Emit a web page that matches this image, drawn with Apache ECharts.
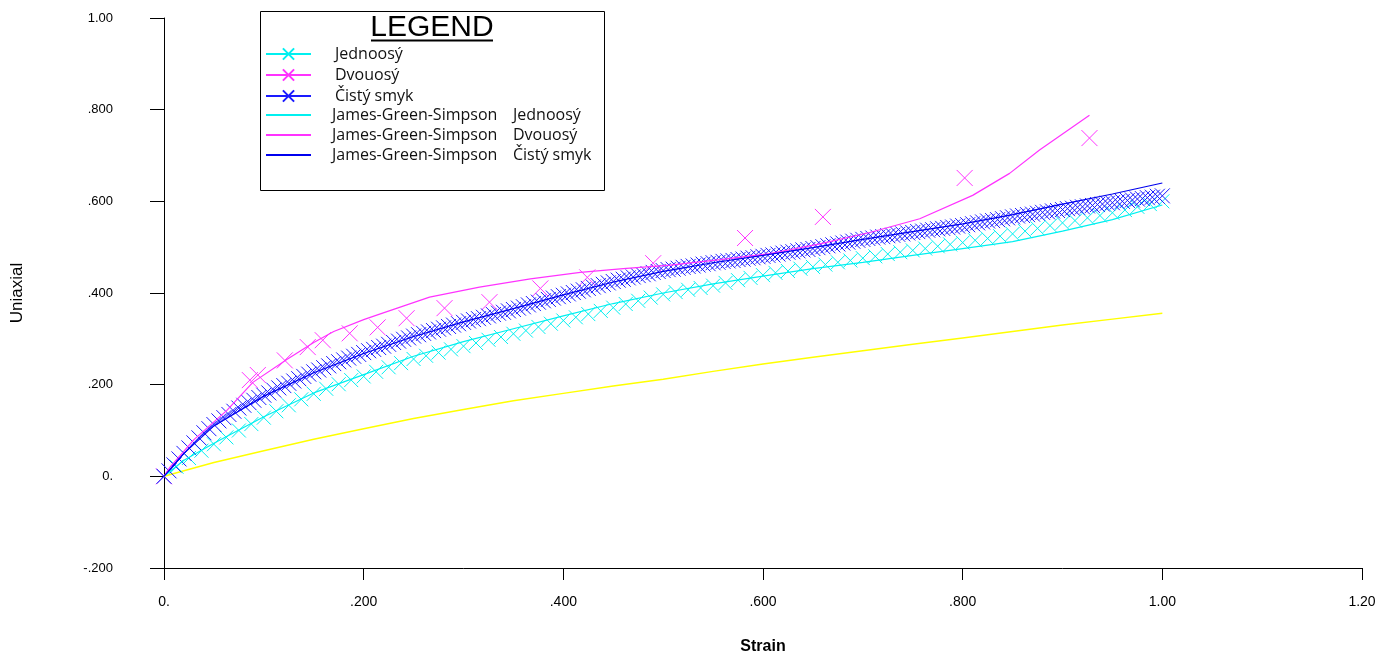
<!DOCTYPE html>
<html>
<head>
<meta charset="utf-8">
<script src="https://cdn.jsdelivr.net/npm/echarts@6/dist/echarts.min.js"></script>
<style>
html,body{margin:0;padding:0;background:#fff;}
#chart{width:1393px;height:655px;}
</style>
</head>
<body>
<div id="chart"></div>
<script>
// ---------- DATA ----------
const xTicks = [0, 0.2, 0.4, 0.6, 0.8, 1.0, 1.2];
const yTicks = [-0.2, 0, 0.2, 0.4, 0.6, 0.8, 1.0];

const seriesNames = ['Jednoosý', 'Dvouosý', 'Čistý smyk',
  'James-Green-Simpson Jednoosý', 'James-Green-Simpson Dvouosý', 'James-Green-Simpson Čistý smyk'];

// Jednoosý (uniaxial test points)
const uniPts = [
[0,0],[0.0125,0.021],[0.025,0.040],[0.0375,0.056],[0.05,0.070],[0.0625,0.085],[0.075,0.100],[0.0875,0.114],
[0.1,0.128],[0.1125,0.142],[0.125,0.155],[0.1375,0.168],[0.15,0.180],[0.1625,0.191],[0.175,0.201],[0.1875,0.210],
[0.2,0.218],[0.2125,0.228],[0.225,0.238],[0.2375,0.247],[0.25,0.256],[0.2625,0.263],[0.275,0.270],[0.2875,0.277],
[0.3,0.284],[0.3125,0.291],[0.325,0.298],[0.3375,0.304],[0.35,0.311],[0.3625,0.318],[0.375,0.326],[0.3875,0.333],
[0.4,0.340],[0.4125,0.347],[0.425,0.354],[0.4375,0.361],[0.45,0.368],[0.4625,0.376],[0.475,0.383],[0.4875,0.390],
[0.5,0.397],[0.5125,0.402],[0.525,0.407],[0.5375,0.411],[0.55,0.416],[0.5625,0.422],[0.575,0.428],[0.5875,0.433],
[0.6,0.439],[0.6125,0.444],[0.625,0.448],[0.6375,0.453],[0.65,0.457],[0.6625,0.462],[0.675,0.467],[0.6875,0.471],
[0.7,0.476],[0.7125,0.480],[0.725,0.485],[0.7375,0.489],[0.75,0.493],[0.7625,0.497],[0.775,0.502],[0.7875,0.506],
[0.8,0.510],[0.8125,0.515],[0.825,0.519],[0.8375,0.524],[0.85,0.529],[0.8625,0.535],[0.875,0.541],[0.8875,0.547],
[0.9,0.553],[0.9125,0.558],[0.925,0.564],[0.9375,0.569],[0.95,0.575],[0.9625,0.581],[0.975,0.588],[0.9875,0.594],
[1.0,0.600]
];

// Dvouosý (biaxial test points)
const biPts = [
[0,0],[0.086,0.210],[0.094,0.221],[0.121,0.253],[0.144,0.282],[0.159,0.297],[0.186,0.312],[0.214,0.325],
[0.243,0.345],[0.281,0.367],[0.326,0.380],[0.377,0.410],[0.424,0.434],[0.490,0.465],[0.582,0.520],
[0.660,0.566],[0.802,0.651],[0.927,0.738]
];

// Čistý smyk (pure shear test points)
const shearPts = [
[0,0],[0.005,0.012],[0.01,0.025],[0.015,0.038],[0.02,0.050],[0.025,0.062],[0.03,0.073],[0.035,0.084],[0.04,0.095],[0.045,0.104],
[0.05,0.113],[0.055,0.121],[0.06,0.128],[0.065,0.135],[0.07,0.142],[0.075,0.149],[0.08,0.155],[0.085,0.161],[0.09,0.166],[0.095,0.172],
[0.1,0.177],[0.105,0.182],[0.11,0.188],[0.115,0.193],[0.12,0.198],[0.125,0.203],[0.13,0.208],[0.135,0.213],[0.14,0.218],[0.145,0.223],
[0.15,0.228],[0.155,0.232],[0.16,0.237],[0.165,0.241],[0.17,0.246],[0.175,0.250],[0.18,0.254],[0.185,0.258],[0.19,0.262],[0.195,0.266],
[0.2,0.270],[0.205,0.274],[0.21,0.277],[0.215,0.281],[0.22,0.284],[0.225,0.288],[0.23,0.292],[0.235,0.295],[0.24,0.299],[0.245,0.302],
[0.25,0.306],[0.255,0.309],[0.26,0.312],[0.265,0.315],[0.27,0.318],[0.275,0.321],[0.28,0.324],[0.285,0.327],[0.29,0.330],[0.295,0.333],
[0.3,0.336],[0.305,0.339],[0.31,0.342],[0.315,0.344],[0.32,0.347],[0.325,0.350],[0.33,0.353],[0.335,0.356],[0.34,0.358],[0.345,0.361],
[0.35,0.364],[0.355,0.367],[0.36,0.370],[0.365,0.374],[0.37,0.377],[0.375,0.380],[0.38,0.383],[0.385,0.386],[0.39,0.389],[0.395,0.392],
[0.4,0.395],[0.405,0.398],[0.41,0.401],[0.415,0.404],[0.42,0.407],[0.425,0.410],[0.43,0.413],[0.435,0.416],[0.44,0.419],[0.445,0.422],
[0.45,0.425],[0.455,0.428],[0.46,0.430],[0.465,0.433],[0.47,0.435],[0.475,0.438],[0.48,0.440],[0.485,0.442],[0.49,0.445],[0.495,0.447],
[0.5,0.449],[0.505,0.451],[0.51,0.452],[0.515,0.454],[0.52,0.456],[0.525,0.458],[0.53,0.459],[0.535,0.461],[0.54,0.463],[0.545,0.464],
[0.55,0.466],[0.555,0.467],[0.56,0.469],[0.565,0.470],[0.57,0.471],[0.575,0.473],[0.58,0.474],[0.585,0.476],[0.59,0.477],[0.595,0.479],
[0.6,0.480],[0.605,0.482],[0.61,0.483],[0.615,0.485],[0.62,0.487],[0.625,0.489],[0.63,0.490],[0.635,0.492],[0.64,0.494],[0.645,0.495],
[0.65,0.497],[0.655,0.499],[0.66,0.501],[0.665,0.503],[0.67,0.505],[0.675,0.507],[0.68,0.509],[0.685,0.511],[0.69,0.513],[0.695,0.515],
[0.7,0.517],[0.705,0.519],[0.71,0.520],[0.715,0.522],[0.72,0.523],[0.725,0.525],[0.73,0.526],[0.735,0.528],[0.74,0.529],[0.745,0.531],
[0.75,0.532],[0.755,0.534],[0.76,0.535],[0.765,0.537],[0.77,0.538],[0.775,0.540],[0.78,0.541],[0.785,0.543],[0.79,0.544],[0.795,0.546],
[0.8,0.547],[0.805,0.549],[0.81,0.551],[0.815,0.553],[0.82,0.555],[0.825,0.557],[0.83,0.558],[0.835,0.560],[0.84,0.562],[0.845,0.564],
[0.85,0.566],[0.855,0.568],[0.86,0.569],[0.865,0.571],[0.87,0.572],[0.875,0.574],[0.88,0.576],[0.885,0.577],[0.89,0.579],[0.895,0.580],
[0.9,0.582],[0.905,0.584],[0.91,0.585],[0.915,0.587],[0.92,0.588],[0.925,0.590],[0.93,0.591],[0.935,0.593],[0.94,0.594],[0.945,0.596],
[0.95,0.597],[0.955,0.599],[0.96,0.600],[0.965,0.602],[0.97,0.603],[0.975,0.605],[0.98,0.606],[0.985,0.608],[0.99,0.609],[0.995,0.611],
[1.0,0.612]
];

// James-Green-Simpson model curves
const jgsUni = [
[0,0],[0.02,0.035],[0.05,0.072],[0.1,0.130],[0.15,0.182],[0.2,0.222],[0.25,0.262],[0.3,0.294],[0.35,0.322],
[0.4,0.350],[0.45,0.377],[0.5,0.400],[0.55,0.420],[0.6,0.437],[0.65,0.453],[0.7,0.467],[0.75,0.482],
[0.8,0.497],[0.85,0.512],[0.9,0.535],[0.95,0.560],[1.0,0.592]
];
const jgsBi = [
[0,0],[0.006,0.020],[0.03,0.080],[0.063,0.144],[0.089,0.205],[0.123,0.255],[0.15,0.292],[0.17,0.316],
[0.2,0.342],[0.216,0.354],[0.266,0.391],[0.316,0.413],[0.367,0.431],[0.417,0.445],[0.46,0.453],[0.507,0.461],
[0.557,0.473],[0.607,0.486],[0.657,0.507],[0.707,0.532],[0.757,0.562],[0.81,0.613],[0.847,0.661],
[0.877,0.712],[0.927,0.788]
];
const jgsShear = [
[0,0],[0.02,0.050],[0.05,0.110],[0.1,0.175],[0.15,0.226],[0.2,0.268],[0.25,0.305],[0.3,0.337],[0.35,0.366],
[0.4,0.396],[0.45,0.424],[0.5,0.447],[0.55,0.466],[0.6,0.482],[0.65,0.499],[0.7,0.517],[0.75,0.534],
[0.8,0.551],[0.85,0.571],[0.9,0.594],[0.95,0.616],[1.0,0.640]
];
// extra yellow curve (not in legend)
const yellowCurve = [
[0,0],[0.05,0.030],[0.1,0.056],[0.15,0.081],[0.2,0.104],[0.25,0.126],[0.3,0.146],[0.35,0.165],[0.4,0.181],
[0.45,0.197],[0.5,0.212],[0.55,0.229],[0.6,0.245],[0.65,0.260],[0.7,0.274],[0.75,0.288],[0.8,0.302],
[0.85,0.316],[0.9,0.330],[0.95,0.343],[1.0,0.356]
];

// ---------- CHART ----------
const CYAN = '#00f0f0', MAG = '#ff33ff', BLUE = '#1a1aff', BLUE_LINE = '#0000ee', YEL = '#ffff00';
const XSYM = 'path://M0,0L10,10M10,0L0,10';
const UI_FONT = 'Open Sans';
const AX_FONT = 'Liberation Sans';

function fmt(v) {
  const r = Math.round(v * 1000) / 1000;
  if (r === 0) return '0.';
  if (Math.abs(r) >= 1) return r.toFixed(2);
  return r.toFixed(3).replace('0.', '.');
}

function markerSeries(name, data, color, size) {
  return {
    name, type: 'line', data, symbol: XSYM, symbolSize: size, showSymbol: true,
    showAllSymbol: true,
    lineStyle: { width: 1, color, opacity: 0 },
    itemStyle: { color, borderColor: color, borderWidth: 1 },
    emphasis: { disabled: true }, z: 2
  };
}
function lineSeries(name, data, color) {
  return {
    name, type: 'line', data, symbol: 'none', showSymbol: false,
    lineStyle: { width: 1.2, color },
    itemStyle: { color },
    emphasis: { disabled: true }, z: 3
  };
}

const legendRowsY = [53, 74, 95, 114, 134, 154];
const legends = seriesNames.map((n, i) => ({
  data: [n], left: 265, top: legendRowsY[i] - 7, padding: 0,
  itemWidth: 45, itemHeight: 14, selectedMode: false,
  lineStyle: { opacity: 1, width: 2 },
  itemStyle: i >= 3 ? { opacity: 0 } : {},
  formatter: function (name) {
    if (name.indexOf('James-Green-Simpson ') === 0) {
      return '{g|}{a|James-Green-Simpson}{b|' + name.slice(20) + '}';
    }
    return '{g|}{b|' + name + '}';
  },
  textStyle: {
    color: '#111', fontFamily: UI_FONT, fontSize: 16,
    rich: {
      g: { width: i >= 3 ? 16 : 19 },
      a: { width: 181, fontFamily: UI_FONT, fontSize: 16, color: '#111' },
      b: { fontFamily: UI_FONT, fontSize: 16, color: '#111' }
    }
  }
}));

const chart = echarts.init(document.getElementById('chart'), null, { renderer: 'canvas' });
chart.setOption({
  animation: false,
  backgroundColor: '#fff',
  grid: { left: 164, right: 31, top: 18, bottom: 87, containLabel: false, outerBoundsMode: 'none' },
  xAxis: {
    type: 'value', min: 0, max: 1.2, interval: 0.2,
    name: 'Strain', nameLocation: 'middle', nameGap: 71,
    nameTextStyle: { fontFamily: AX_FONT, fontSize: 16, fontWeight: 'bold', color: '#000' },
    axisLine: { onZero: false, lineStyle: { color: '#000', width: 1 } },
    axisTick: { show: true, length: 12, inside: false, lineStyle: { color: '#000' } },
    axisLabel: { formatter: fmt, margin: 27, fontFamily: AX_FONT, fontSize: 14, color: '#000' },
    splitLine: { show: false }
  },
  yAxis: {
    type: 'value', min: -0.2, max: 1.0, interval: 0.2,
    name: 'Uniaxial', nameLocation: 'middle', nameGap: 138, nameRotate: 90,
    nameTextStyle: { fontFamily: AX_FONT, fontSize: 17, color: '#000' },
    axisLine: { onZero: false, lineStyle: { color: '#000', width: 1 } },
    axisTick: { show: true, length: 14, inside: false, lineStyle: { color: '#000' } },
    axisLabel: { formatter: fmt, margin: 51, fontFamily: AX_FONT, fontSize: 13, color: '#000' },
    splitLine: { show: false }
  },
  legend: legends,
  graphic: [
    { type: 'rect', shape: { x: 260.5, y: 11.5, width: 344, height: 179 },
      style: { fill: '#fff', stroke: '#000', lineWidth: 1 }, z: 0, silent: true },
    { type: 'text', x: 432, y: 28, silent: true, z: 1,
      style: { text: 'LEGEND', font: "30px 'Liberation Sans', Arial, sans-serif", fill: '#000',
               textAlign: 'center', textVerticalAlign: 'middle' } },
    { type: 'line', shape: { x1: 371, y1: 40.5, x2: 493, y2: 40.5 }, silent: true, z: 1,
      style: { stroke: '#000', lineWidth: 2 } }
  ],
  series: [
    markerSeries(seriesNames[0], uniPts, CYAN, 14),
    markerSeries(seriesNames[1], biPts, MAG, 16),
    markerSeries(seriesNames[2], shearPts, BLUE, 15),
    lineSeries(seriesNames[3], jgsUni, CYAN),
    lineSeries(seriesNames[4], jgsBi, MAG),
    lineSeries(seriesNames[5], jgsShear, BLUE_LINE),
    { name: 'yellow', type: 'line', data: yellowCurve, symbol: 'none', showSymbol: false,
      lineStyle: { width: 1.5, color: YEL }, emphasis: { disabled: true }, z: 1 }
  ]
});
</script>
</body>
</html>
